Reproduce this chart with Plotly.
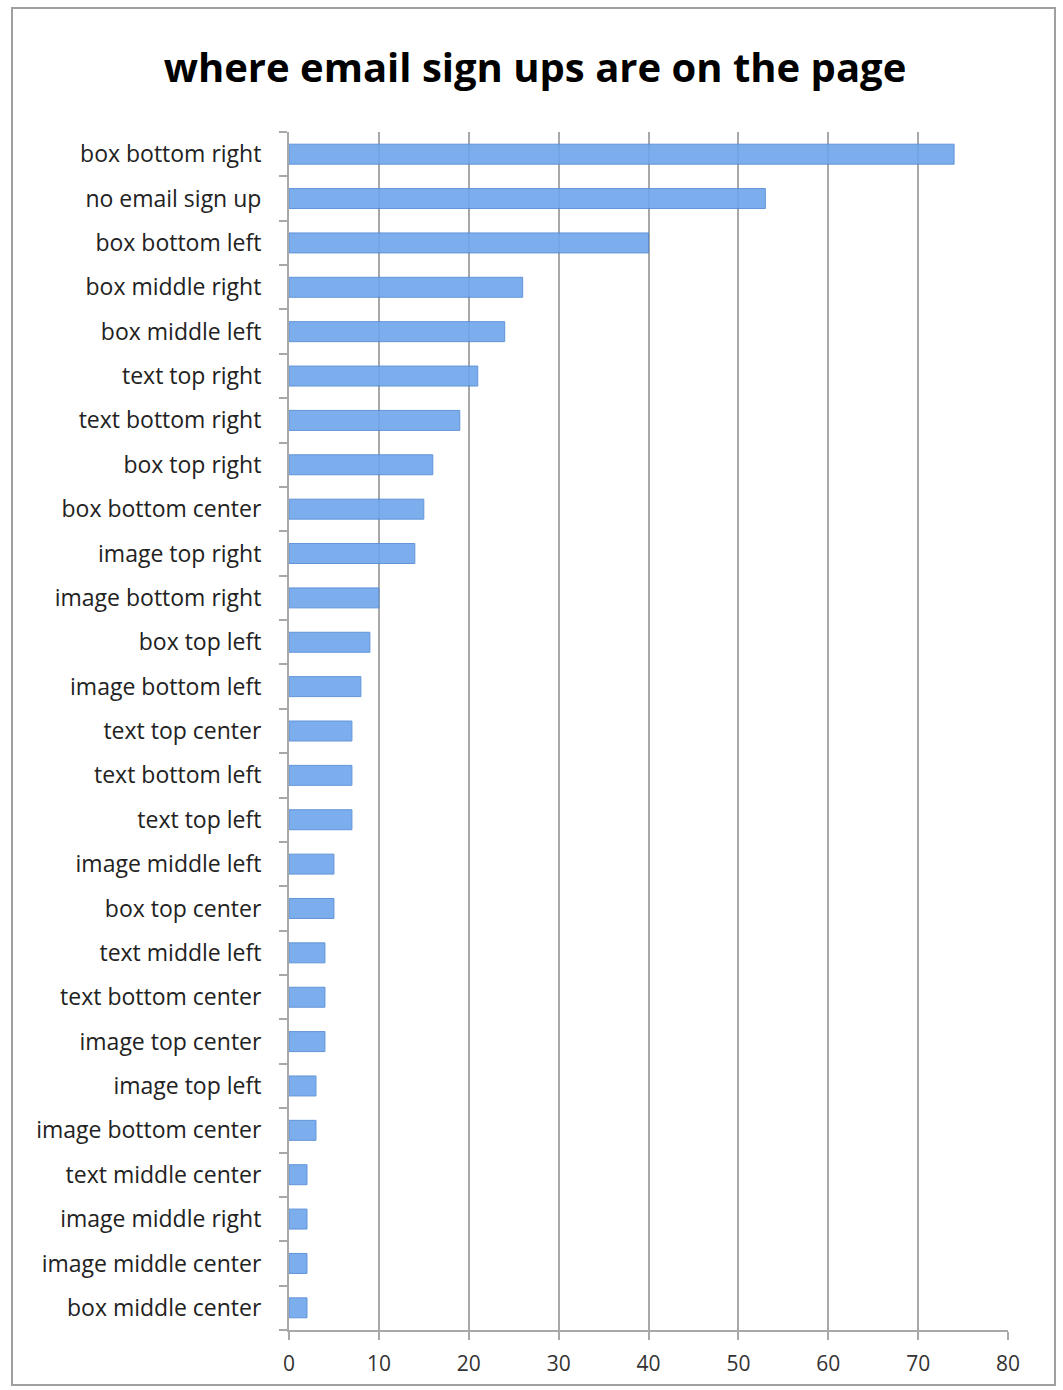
import plotly.graph_objects as go

# Placement of email sign-up forms, listed from the top of the chart downwards
locations = [
    "box bottom right", "no email sign up", "box bottom left", "box middle right",
    "box middle left", "text top right", "text bottom right", "box top right",
    "box bottom center", "image top right", "image bottom right", "box top left",
    "image bottom left", "text top center", "text bottom left", "text top left",
    "image middle left", "box top center", "text middle left", "text bottom center",
    "image top center", "image top left", "image bottom center", "text middle center",
    "image middle right", "image middle center", "box middle center",
]
counts = [74, 53, 40, 26, 24, 21, 19, 16, 15, 14, 10, 9, 8, 7, 7, 7, 5, 5, 4, 4, 4, 3, 3, 2, 2, 2, 2]
x_ticks = [0, 10, 20, 30, 40, 50, 60, 70, 80]

W, H = 1063, 1390
L, R, T, B = 289, 55, 132, 60
pw, ph = W - L - R, H - T - B

fig = go.Figure(
    go.Bar(
        x=counts,
        y=locations,
        orientation="h",
        marker=dict(color="#6ea6ec", line=dict(color="#5289d4", width=1), opacity=0.9),
        width=0.45,
    )
)

font_family = "Open Sans, Liberation Sans, sans-serif"

fig.update_layout(
    width=W,
    height=H,
    margin=dict(l=L, r=R, t=T, b=B),
    paper_bgcolor="white",
    plot_bgcolor="white",
    showlegend=False,
    title=dict(
        text="<b>where email sign ups are on the page</b>",
        x=535 / W,
        xanchor="center",
        y=1 - 68 / H,
        yanchor="middle",
        yref="container",
        font=dict(family=font_family, size=40, color="black"),
    ),
    xaxis=dict(
        range=[0, 80],
        tickvals=x_ticks,
        ticktext=[str(v) for v in x_ticks],
        showgrid=True,
        gridcolor="#a8a8a8",
        gridwidth=2,
        zeroline=False,
        showline=True,
        linecolor="#a8a8a8",
        linewidth=2,
        ticks="outside",
        ticklen=8,
        tickwidth=2,
        tickcolor="#a8a8a8",
        ticklabelstandoff=6,
        tickfont=dict(family=font_family, size=21, color="#333333"),
        layer="above traces",
    ),
    yaxis=dict(
        categoryorder="array",
        categoryarray=locations[::-1],
        range=[-0.5, len(locations) - 0.5],
        showgrid=False,
        zeroline=False,
        showline=True,
        linecolor="#a8a8a8",
        linewidth=2,
        ticks="outside",
        tickson="boundaries",
        ticklen=8,
        tickwidth=2,
        tickcolor="#a8a8a8",
        ticklabelstandoff=21,
        tickfont=dict(family=font_family, size=23, color="#222222"),
    ),
    shapes=[
        dict(
            type="rect",
            xref="paper",
            yref="paper",
            x0=(12 - L) / pw,
            x1=(1055 - L) / pw,
            y0=(H - B - 1385) / ph,
            y1=(H - B - 8) / ph,
            line=dict(color="#a0a0a0", width=2),
            fillcolor="rgba(0,0,0,0)",
            layer="below",
        )
    ],
)

fig.write_html("out.html")
